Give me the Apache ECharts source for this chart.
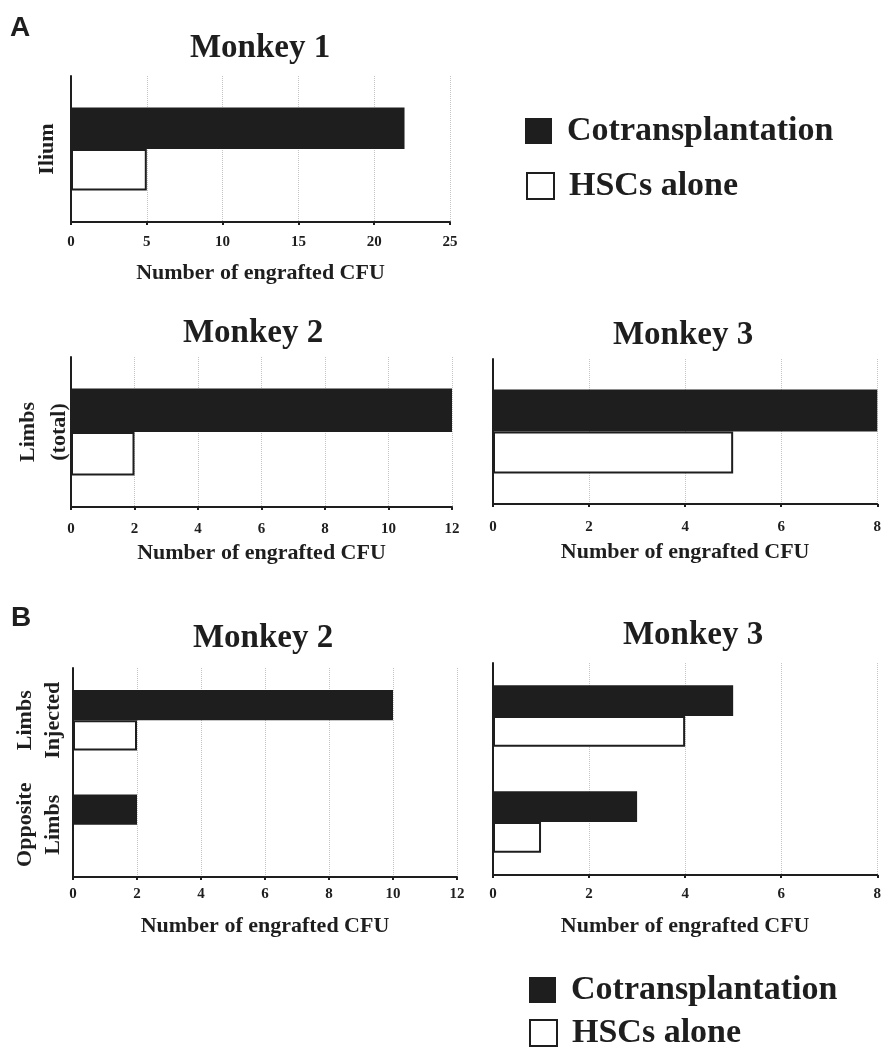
<!DOCTYPE html>
<html>
<head>
<meta charset="utf-8">
<script src="https://cdn.jsdelivr.net/npm/echarts@6/dist/echarts.min.js"></script>
<style>
  html, body { margin: 0; padding: 0; background: #fff; }
  #chart { width: 884px; height: 1047px; }
</style>
</head>
<body>
<div id="chart"></div>
<script>
// Engrafted CFU per monkey — cotransplantation vs HSCs alone.
const seriesNames = ["Cotransplantation", "HSCs alone"];

// Panel A
const iliumCats = ["Ilium"];
const m1Cotrans = [22];
const m1Hsc = [5];

const limbsTotalCats = ["Limbs\n(total)"];
const m2Cotrans = [12];
const m2Hsc = [2];
const m3Cotrans = [8];
const m3Hsc = [5];

// Panel B
const sideCats = ["Limbs\nInjected", "Opposite\nLimbs"];
const bM2Cotrans = [10, 2];
const bM2Hsc = [2, 0];
const bM3Cotrans = [5, 3];
const bM3Hsc = [4, 1];

const SERIF = "'Liberation Serif', 'Times New Roman', serif";
const INK = "#1e1e1e";

// one small chart per grid
const panels = [
  { grid: { left: 71, top: 76, width: 379, height: 146 }, cats: iliumCats, co: m1Cotrans, hsc: m1Hsc,
    max: 25, interval: 5, nameGap: 40, labelMargin: 13, catLabel: true, catLineHeight: 30, catMargin: 9, gap: "43%" },
  { grid: { left: 71, top: 357, width: 381, height: 150 }, cats: limbsTotalCats, co: m2Cotrans, hsc: m2Hsc,
    max: 12, interval: 2, nameGap: 35, labelMargin: 15, catLabel: true, catLineHeight: 31, catMargin: -4, gap: "42%" },
  { grid: { left: 493, top: 359, width: 386, height: 145 }, cats: limbsTotalCats, co: m3Cotrans, hsc: m3Hsc,
    max: 8, interval: 2, nameGap: 37, labelMargin: 16, catLabel: false, gap: "42%" },
  { grid: { left: 73, top: 668, width: 384, height: 209 }, cats: sideCats, co: bM2Cotrans, hsc: bM2Hsc,
    max: 12, interval: 2, nameGap: 38, labelMargin: 10, catLabel: true, catLineHeight: 28, catMargin: 6, gap: "42%" },
  { grid: { left: 493, top: 663, width: 386, height: 212 }, cats: sideCats, co: bM3Cotrans, hsc: bM3Hsc,
    max: 8, interval: 2, nameGap: 40, labelMargin: 12, catLabel: false, gap: "42%" },
];

const grids = [], xAxes = [], yAxes = [], series = [];
panels.forEach((p, i) => {
  grids.push(p.grid);
  xAxes.push({
    gridIndex: i,
    type: "value",
    min: 0,
    max: p.max,
    interval: p.interval,
    name: "Number of engrafted CFU",
    nameLocation: "middle",
    nameGap: p.nameGap,
    nameTextStyle: { fontFamily: SERIF, fontWeight: "bold", fontSize: 22, color: INK },
    axisLine: { show: true, lineStyle: { color: INK, width: 2 } },
    axisTick: { show: true, length: 3, lineStyle: { color: INK, width: 2 } },
    axisLabel: { margin: p.labelMargin, fontFamily: SERIF, fontWeight: "bold", fontSize: 15, color: INK },
    splitLine: { show: true, lineStyle: { color: "#c4c4c4", type: "dotted", width: 1 } },
  });
  yAxes.push({
    gridIndex: i,
    type: "category",
    inverse: true,
    data: p.cats,
    axisLine: { show: true, lineStyle: { color: INK, width: 2 } },
    axisTick: { show: false },
    axisLabel: {
      show: p.catLabel,
      interval: 0,
      rotate: 90,
      margin: p.catMargin || 0,
      fontFamily: SERIF,
      fontWeight: "bold",
      fontSize: 22,
      lineHeight: p.catLineHeight || 28,
      color: INK,
    },
    splitLine: { show: false },
  });
  series.push({
    name: seriesNames[0],
    type: "bar",
    xAxisIndex: i,
    yAxisIndex: i,
    data: p.co,
    barGap: "0%",
    barCategoryGap: p.gap,
    itemStyle: { color: INK },
  });
  series.push({
    name: seriesNames[1],
    type: "bar",
    xAxisIndex: i,
    yAxisIndex: i,
    data: p.hsc,
    barGap: "0%",
    barCategoryGap: p.gap,
    itemStyle: { color: "#ffffff", borderColor: INK, borderWidth: 2 },
  });
});

const legendItems = [
  { name: seriesNames[0], itemStyle: { color: INK, borderWidth: 0 } },
  { name: seriesNames[1], itemStyle: { color: "#ffffff", borderColor: INK, borderWidth: 2 } },
];
// one legend component per entry so each row can be placed on its own
function legendRow(item, left, top) {
  return {
    left: left,
    top: top,
    padding: 0,
    icon: "rect",
    itemWidth: 27,
    itemHeight: 26,
    selectedMode: false,
    data: [item],
    textStyle: { fontFamily: SERIF, fontWeight: "bold", fontSize: 34, lineHeight: 28, color: INK, padding: [0, 0, 0, 10] },
  };
}

function titleText(x, y, text) {
  return {
    type: "text",
    x: x,
    y: y,
    style: { text: text, fontFamily: SERIF, fontWeight: "bold", fontSize: 33, fill: INK, textAlign: "center", textVerticalAlign: "middle" },
  };
}
function panelLetter(x, y, text) {
  return {
    type: "text",
    x: x,
    y: y,
    style: { text: text, fontFamily: "'Liberation Sans', Arial, sans-serif", fontWeight: "bold", fontSize: 28, fill: INK, textVerticalAlign: "middle" },
  };
}

const chart = echarts.init(document.getElementById("chart"), null, { renderer: "canvas" });
chart.setOption({
  animation: false,
  backgroundColor: "#ffffff",
  grid: grids,
  xAxis: xAxes,
  yAxis: yAxes,
  series: series,
  legend: [
    legendRow(legendItems[0], 525, 114),
    legendRow(legendItems[1], 526, 169),
    legendRow(legendItems[0], 529, 973),
    legendRow(legendItems[1], 529, 1016),
  ],
  graphic: [
    panelLetter(10, 28, "A"),
    panelLetter(11, 618, "B"),
    titleText(260, 48, "Monkey 1"),
    titleText(253, 333, "Monkey 2"),
    titleText(683, 335, "Monkey 3"),
    titleText(263, 638, "Monkey 2"),
    titleText(693, 635, "Monkey 3"),
  ],
});
</script>
</body>
</html>
